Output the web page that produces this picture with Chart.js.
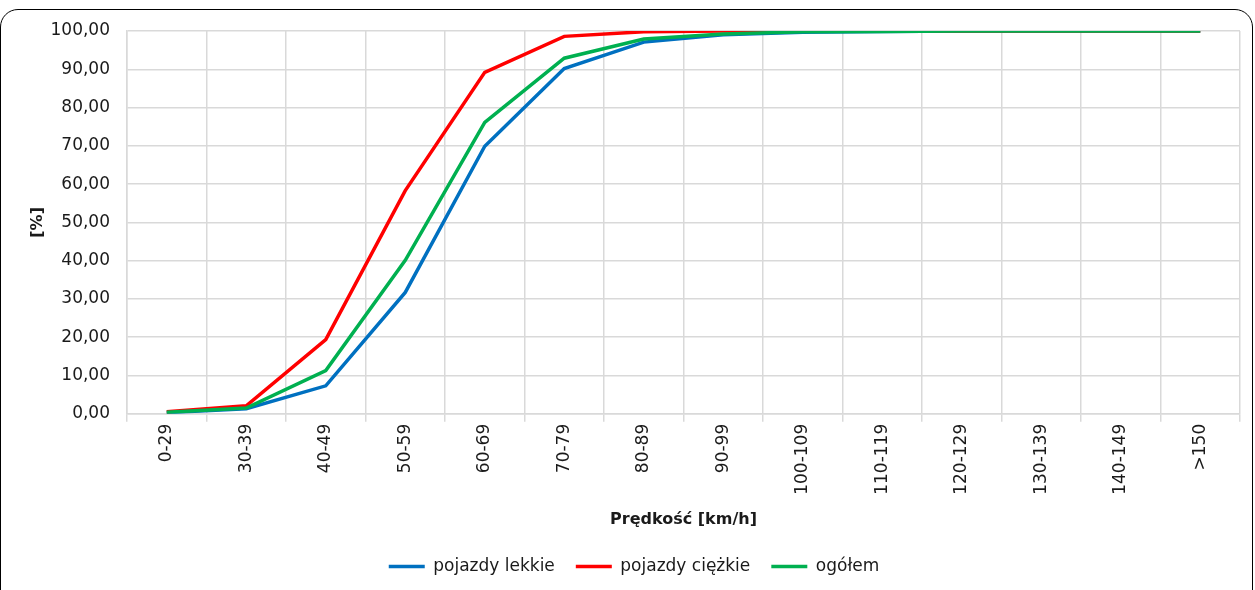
<!DOCTYPE html>
<html>
<head>
<meta charset="utf-8">
<script src="https://cdn.jsdelivr.net/npm/chart.js@4"></script>
<style>
  html, body { margin: 0; padding: 0; background: #fff; }
  #frame {
    position: absolute; left: 0; top: 9px; width: 1253px; height: 600px;
    border: 1.5px solid #000; border-radius: 18px; box-sizing: border-box;
  }
  #wrap { position: absolute; left: 0; top: 0; width: 1255px; height: 590px; }
</style>
</head>
<body>
<div id="frame"></div>
<div id="wrap"><canvas id="speedChart"></canvas></div>
<script>
// Speed classes
const categories = ["0-29", "30-39", "40-49", "50-59", "60-69", "70-79", "80-89",
    "90-99", "100-109", "110-119", "120-129", "130-139", "140-149", ">150"];

// Cumulative share of vehicles [%]
const lightVehicles = [0.3, 1.3, 7.3, 31.7, 69.9, 90.2, 97.1, 99.0, 99.7, 99.9, 100, 100, 100, 100];
const heavyVehicles = [0.5, 2.1, 19.4, 58.3, 89.2, 98.6, 99.8, 100, 100, 100, 100, 100, 100, 100];
const allVehicles   = [0.4, 1.5, 11.3, 40.1, 76.1, 92.9, 97.9, 99.2, 99.8, 99.9, 100, 100, 100, 100];

const yTicks = [0, 10, 20, 30, 40, 50, 60, 70, 80, 90, 100];

const fontFamily = "'DejaVu Sans', Verdana, sans-serif";
const textColor = "#1a1a1a";
const gridColor = "#d9d9d9";

Chart.defaults.font.family = fontFamily;
Chart.defaults.color = textColor;

// order: green drawn on top, then red, blue at the bottom
function series(label, data, color, order) {
    return {
        label: label,
        data: data,
        borderColor: color,
        backgroundColor: color,
        borderWidth: 3.5,
        pointRadius: 0,
        tension: 0,
        fill: false,
        order: order
    };
}

const ctx = document.getElementById("speedChart").getContext("2d");

new Chart(ctx, {
    type: "line",
    data: {
        labels: categories,
        datasets: [
            series("pojazdy lekkie", lightVehicles, "#0070c0", 3),
            series("pojazdy ciężkie", heavyVehicles, "#ff0000", 2),
            series("ogółem", allVehicles, "#00b050", 1)
        ]
    },
    options: {
        responsive: true,
        maintainAspectRatio: false,
        animation: false,
        layout: {
            padding: { left: 28, right: 15, top: 31, bottom: 5 }
        },
        plugins: {
            tooltip: { enabled: false },
            legend: {
                position: "bottom",
                labels: {
                    font: { size: 17 },
                    color: textColor,
                    usePointStyle: true,
                    pointStyle: "line",
                    pointStyleWidth: 36,
                    padding: 21,
                    sort: (a, b) => a.datasetIndex - b.datasetIndex
                }
            }
        },
        scales: {
            x: {
                offset: true,
                grid: { color: gridColor, lineWidth: 1.5, offset: true, drawTicks: true, tickLength: 8 },
                border: { color: gridColor, width: 1.5 },
                ticks: {
                    minRotation: 90,
                    maxRotation: 90,
                    autoSkip: false,
                    font: { size: 17 },
                    color: textColor,
                    padding: 2
                },
                title: {
                    display: true,
                    text: "Prędkość [km/h]",
                    font: { size: 16, weight: "bold" },
                    color: textColor,
                    padding: { top: 13, bottom: 8 }
                }
            },
            y: {
                min: 0,
                max: 100,
                afterBuildTicks: axis => {
                    axis.ticks = yTicks.map(v => ({ value: v }));
                },
                afterFit: axis => {
                    axis.width = 99;
                },
                grid: { color: gridColor, lineWidth: 1.5, drawTicks: false },
                border: { color: gridColor, width: 1.5 },
                ticks: {
                    font: { size: 17 },
                    color: textColor,
                    padding: 17,
                    callback: v => v.toFixed(2).replace(".", ",")
                },
                title: {
                    display: true,
                    text: "[%]",
                    font: { size: 16, weight: "bold" },
                    color: textColor,
                    padding: { top: 0, bottom: 2 }
                }
            }
        }
    }
});
</script>
</body>
</html>
